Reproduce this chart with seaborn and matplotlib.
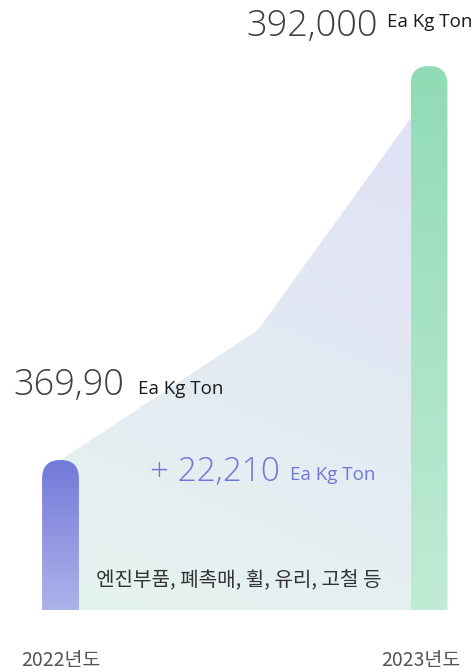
import numpy as np
import pandas as pd
import matplotlib.pyplot as plt
import seaborn as sns
from matplotlib.patches import FancyBboxPatch, Polygon
from matplotlib.colors import LinearSegmentedColormap
from matplotlib.transforms import ScaledTranslation

# Data
years = ['2022년도', '2023년도']
amounts = [369900, 392000]
value_labels = ['369,90', '392,000']
unit_label = 'Ea Kg Ton'
increase_label = '+ 22,210'
items_label = '엔진부품, 폐촉매, 휠, 유리, 고철 등'
# trend area drawn behind the bars (x in category positions)
trend_x = [0, 0.536, 1]
trend_y = [369900, 377200, 390500]

bar_colors = [('#aeb2ea', '#7279d8'), ('#c0ebd5', '#90dbb5')]  # (bottom, top)
area_colors = ('#e6f4ef', '#e1e2f6')

sns.set_style('white')
plt.rcParams['font.family'] = ['Noto Sans CJK KR', 'DejaVu Sans']
latin = ['Open Sans', 'Noto Sans CJK KR', 'DejaVu Sans']

W, H = 474, 672
fig = plt.figure(figsize=(W / 100, H / 100), dpi=100)
ax = fig.add_axes([0, 62 / H, 1, 610 / H])

df = pd.DataFrame({'year': years, 'amount': amounts})
sns.barplot(data=df, x='year', y='amount', ax=ax, width=0.1, color='#cccccc')

y_base, y_top = 361486, 395702
xlim = (-0.1642, 1.1221)

def set_limits():
    ax.set_xlim(*xlim)
    ax.set_ylim(y_base, y_top)

set_limits()
sns.despine(ax=ax, left=True, bottom=True)
ax.set_yticks([])
ax.tick_params(axis='x', length=0, pad=29, labelsize=14, labelcolor='#555555')
ax.set_xlabel('')
ax.set_ylabel('')
# keep the right year label inside the figure
lbl = ax.get_xticklabels()[1]
lbl.set_transform(lbl.get_transform() + ScaledTranslation(-8 / 100, 0, fig.dpi_scale_trans))

# px per data unit, to keep the rounded caps circular
p0 = ax.transData.transform((0, y_base))
p1 = ax.transData.transform((1, y_base + 1000))
aspect = (p1[0] - p0[0]) / ((p1[1] - p0[1]) / 1000)

# gradient area behind the bars
poly = Polygon(list(zip(trend_x, trend_y)) + [(trend_x[-1], y_base), (trend_x[0], y_base)],
               closed=True, facecolor='none', edgecolor='none')
ax.add_patch(poly)
yy, xx = np.mgrid[0:1:200j, 0:1:200j]
grad = np.clip(0.85 * yy + 0.25 * xx, 0, 1)
area_cmap = LinearSegmentedColormap.from_list('area', area_colors)
im = ax.imshow(grad, extent=[trend_x[0], trend_x[-1], y_base, trend_y[-1]], origin='lower',
               aspect='auto', cmap=area_cmap, vmin=0, vmax=1, zorder=1)
im.set_clip_path(poly)

# rounded gradient bars
for bar, (c_bot, c_top) in zip(list(ax.patches), bar_colors):
    if bar is poly:
        continue
    bar.set_visible(False)
    x0, w, top = bar.get_x(), bar.get_width(), bar.get_height()
    bottom = y_base - 5000
    cap = FancyBboxPatch((x0, bottom), w, top - bottom,
                         boxstyle=f'round,pad=0,rounding_size={w / 2}',
                         mutation_aspect=aspect, facecolor='none', edgecolor='none')
    ax.add_patch(cap)
    cmap = LinearSegmentedColormap.from_list('bar', [c_bot, c_top])
    g = np.linspace(0, 1, 256).reshape(-1, 1)
    bim = ax.imshow(g, extent=[x0, x0 + w, y_base, top], origin='lower', aspect='auto',
                    cmap=cmap, zorder=3)
    bim.set_clip_path(cap)

set_limits()

# texts
def px(x, y):
    return x / W, 1 - y / H

num = dict(family=latin, fontweight='light', va='baseline', color='#3b4048')
unit = dict(family=latin, va='baseline', ha='left')
fig.text(*px(378, 36), value_labels[1], ha='right', fontsize=26, **num)
fig.text(*px(387, 27), unit_label, fontsize=13.5, color='#1a1a1a', **unit)
fig.text(*px(13, 395), value_labels[0], ha='left', fontsize=26, **num)
fig.text(*px(138, 394), unit_label, fontsize=13.5, color='#1a1a1a', **unit)
fig.text(*px(150, 481), increase_label, ha='left', fontsize=24, family=latin,
         fontweight='light', va='baseline', color='#6f78d6')
fig.text(*px(290, 480), unit_label, fontsize=13.5, color='#6f78d6', **unit)
fig.text(*px(239, 586), items_label, ha='center', va='baseline', fontsize=14.5, color='#333333')

fig.savefig('out.png', dpi=100)
